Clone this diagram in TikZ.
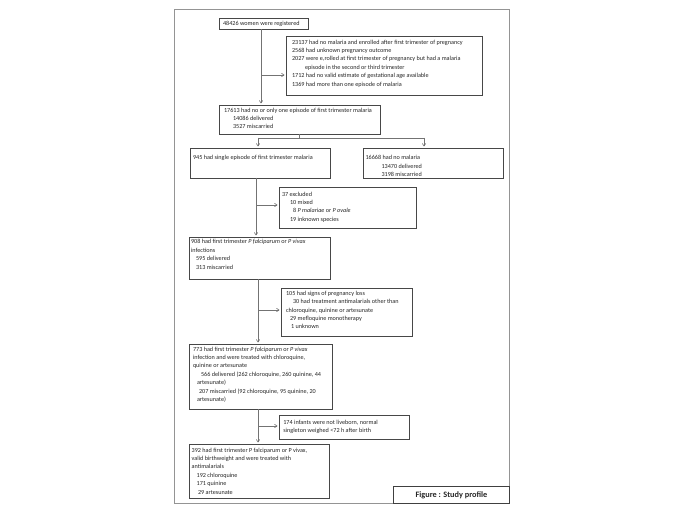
\documentclass[tikz,border=0pt]{standalone}
\usepackage{fontspec}
\setmainfont{Carlito}
\usetikzlibrary{arrows.meta}
% name, x, y, w, h, left pad, first baseline, content
\newcommand\flowbox[8]{%
  \node[fbx, minimum width=#4bp, minimum height=#5bp, anchor=north west] (#1) at (#2,#3)
  {\parbox[c][#5bp][t]{#4bp}{\raggedright\leftskip=#6bp\relax\rightskip=-40bp plus 1fil\relax
   \rule{0pt}{#7bp}#8}};}
\begin{document}
\begin{tikzpicture}[x=1bp,y=-1bp,
  fbx/.style={draw=black!72, line width=0.6bp, inner sep=0pt, outer sep=0pt,
    font=\fontsize{6.2}{8.4}\selectfont, text=black!85},
  conn/.style={draw=black!55, line width=0.6bp},
  arr/.style={conn, shorten >=1.5bp, -{Straight Barb[length=2.5bp,width=3.5bp]}}]
\useasboundingbox (0,0) rectangle (689,517);
\fill[white] (0,0) rectangle (689,517);
% outer frame
\draw[black!42, line width=0.9bp] (174,9) rectangle (509,503);

\flowbox{b1}{219}{18}{89}{11.5}{4}{7.7}{48426 women were registered}
\flowbox{b2}{286}{36}{196}{59}{6}{8.2}{23137 had no malaria and enrolled after first trimester of pregnancy\\2568 had unknown pregnancy outcome\\2027 were e,rolled at first trimester of pregnancy but had a malaria\\\hspace*{13bp}episode in the second or third trimester\\1712 had no valid estimate of gestational age available\\1369 had more than one episode of malaria}
\flowbox{b3}{219}{105}{161}{29}{5}{7.2}{17613 had no or only one episode of first trimester malaria\\\hspace*{9bp}14086 delivered\\\hspace*{9bp}3527 miscarried}
\flowbox{b4}{190}{148}{140}{30}{3}{11.9}{945 had single episode of first trimester malaria}
\flowbox{b5}{363}{148}{140}{30}{2.5}{11.9}{16668 had no malaria\\\hspace*{16bp}13470 delivered\\\hspace*{16bp}3198 miscarried}
\flowbox{b6}{279}{187}{137}{41}{3}{9.2}{37 excluded\\\hspace*{8bp}10 mixed\\\hspace*{11bp}8 \textit{P malariae} or \textit{P ovale}\\\hspace*{8bp}19 inknown species}
\flowbox{b7}{189}{237}{141}{42}{2}{6.9}{908 had first trimester \textit{P falciparum} or \textit{P vivax}\\infections\\\hspace*{5bp}595 delivered\\\hspace*{5bp}313 miscarried}
\flowbox{b8}{281}{288}{131}{48}{5}{7.5}{105 had signs of pregnancy loss\\\hspace*{7bp}30 had treatment antimalarials other than\\chloroquine, quinine or artesunate\\\hspace*{4bp}29 mefloquine monotherapy\\\hspace*{5bp}1 unknown}
\flowbox{b9}{189}{344}{143}{65}{4}{7.2}{773 had first trimester \textit{P falciparum} or \textit{P vivax}\\infection and were treated with chloroquine,\\quinine or artesunate\\\hspace*{8bp}566 delivered (262 chloroquine, 260 quinine, 44\\\hspace*{4bp}artesunate)\\\hspace*{6bp}207 miscarried (92 chloroquine, 95 quinine, 20\\\hspace*{4bp}artesunate)}
\flowbox{b10}{279}{415}{130}{24}{4.3}{9.5}{174 infants were not liveborn, normal\\singleton weighed <72 h after birth}
\flowbox{b11}{189}{444}{140}{54}{2.7}{8.2}{392 had first trimester P falciparum or P vivax,\\valid birthweight and were treated with\\antimalarials\\\hspace*{5bp}192 chloroquine\\\hspace*{5bp}171 quinine\\\hspace*{6.3bp}29 artesunate}

\node[draw=black!75, line width=0.9bp, inner sep=0pt, minimum width=116bp, minimum height=17bp,
  anchor=north west, font=\bfseries\fontsize{8.3}{10}\selectfont, text=black!85] (cap) at (393,486) {Figure : Study profile};

% connectors
\coordinate (t1) at (261,75);
\draw[arr] (b1.south -| t1) -- (b3.north -| t1);
\draw[arr] (t1) -- (t1 -| b2.west);

\coordinate (sL) at (258,138);
\coordinate (sR) at (424,138);
\draw[conn] (b3.south) -- (b3.south |- sL);
\draw[conn] (sL) -- (sR);
\draw[arr] (sL) -- (sL |- b4.north);
\draw[arr] (sR) -- (sR |- b5.north);

\coordinate (t2) at (256,205);
\draw[arr] (b4.south -| t2) -- (b7.north -| t2);
\draw[arr] (t2) -- (t2 -| b6.west);

\coordinate (t3) at (258,310);
\draw[arr] (b7.south -| t3) -- (b9.north -| t3);
\draw[arr] (t3) -- (t3 -| b8.west);

\coordinate (t4) at (258,426);
\draw[arr] (b9.south -| t4) -- (b11.north -| t4);
\draw[arr] (t4) -- (t4 -| b10.west);
\end{tikzpicture}
\end{document}
